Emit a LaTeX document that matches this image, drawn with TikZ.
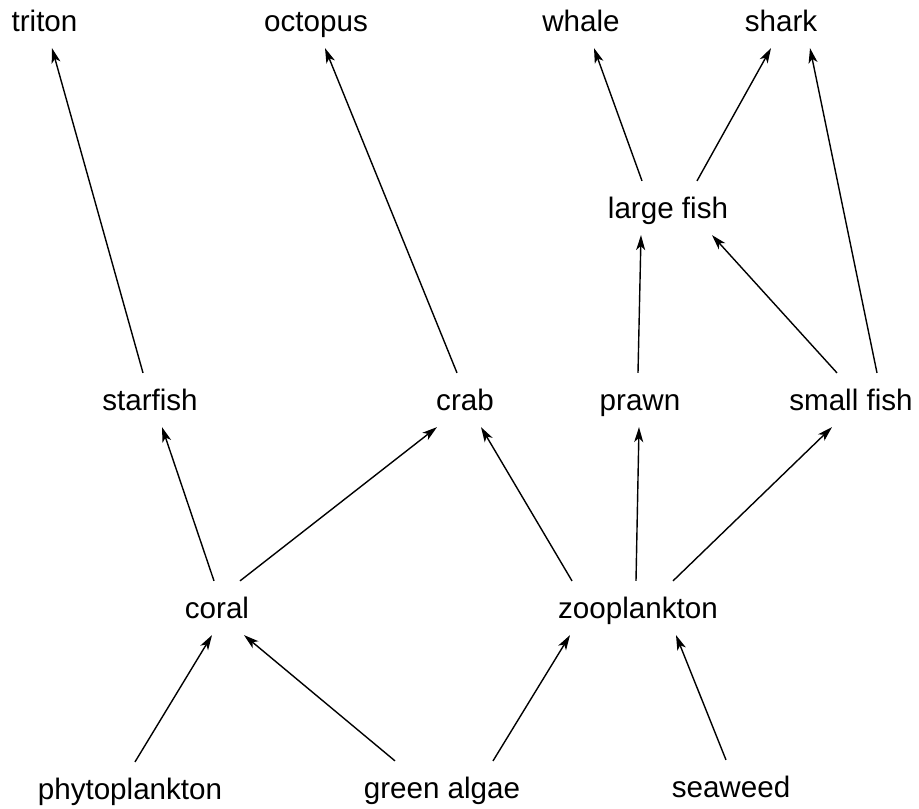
\documentclass[tikz,border=0pt]{standalone}
\usepackage{fontspec}
\setmainfont{Liberation Sans}
\usetikzlibrary{arrows.meta}
\begin{document}
\begin{tikzpicture}[x=1pt,y=-1pt,
  lbl/.style={font=\fontsize{29.6}{34}\selectfont, text height=21pt, text depth=0pt, inner xsep=0pt, inner ysep=16.4pt},
  eat/.style={-{Stealth[length=15pt,width=9pt,inset=4pt]}, line width=1.4pt}]
\useasboundingbox (0,0) rectangle (919,809);
% top row
\node[lbl] (triton) at (44.5,21) {triton};
\node[lbl] (octopus) at (316,21) {octopus};
\node[lbl] (whale) at (581,21) {whale};
\node[lbl] (shark) at (781,21) {shark};
% large fish
\node[lbl] (largefish) at (668,208) {large fish};
% middle row
\node[lbl] (starfish) at (150,400) {starfish};
\node[lbl] (crab) at (465,400) {crab};
\node[lbl] (prawn) at (640,400) {prawn};
\node[lbl] (smallfish) at (851,400) {small fish};
% coral row
\node[lbl] (coral) at (217,608) {coral};
\node[lbl] (zoo) at (638,608) {zooplankton};
% bottom row
\node[lbl] (phyto) at (130,789) {phytoplankton};
\node[lbl] (green) at (442,788) {green algae};
\node[lbl] (seaweed) at (731,787) {seaweed};
% connectors
\draw[eat] ([xshift=-7pt]starfish.north) -- ([xshift=7.5pt]triton.south);
\draw[eat] ([xshift=-8pt]crab.north) -- ([xshift=9pt]octopus.south);
\draw[eat] ([xshift=-26pt]largefish.north) -- ([xshift=13pt]whale.south);
\draw[eat] ([xshift=29pt]largefish.north) -- ([xshift=-10pt]shark.south);
\draw[eat] ([xshift=26pt]smallfish.north) -- ([xshift=29pt]shark.south);
\draw[eat] ([xshift=-14pt]smallfish.north) -- ([xshift=44pt]largefish.south);
\draw[eat] ([xshift=-2pt]prawn.north) -- ([xshift=-27pt]largefish.south);
\draw[eat] ([xshift=-3pt]coral.north) -- ([xshift=12pt]starfish.south);
\draw[eat] ([xshift=23pt]coral.north) -- ([xshift=-28pt]crab.south);
\draw[eat] ([xshift=-66pt]zoo.north) -- ([xshift=16pt]crab.south);
\draw[eat] ([xshift=-2pt]zoo.north) -- ([xshift=-1pt]prawn.south);
\draw[eat] ([xshift=35pt]zoo.north) -- ([xshift=-19pt]smallfish.south);
\draw[eat] ([xshift=5pt]phyto.north) -- ([xshift=-5pt]coral.south);
\draw[eat] ([xshift=-47pt]green.north) -- ([xshift=27pt]coral.south);
\draw[eat] ([xshift=51pt]green.north) -- ([xshift=-68pt]zoo.south);
\draw[eat] ([xshift=-5pt]seaweed.north) -- ([xshift=38pt]zoo.south);
\end{tikzpicture}
\end{document}
